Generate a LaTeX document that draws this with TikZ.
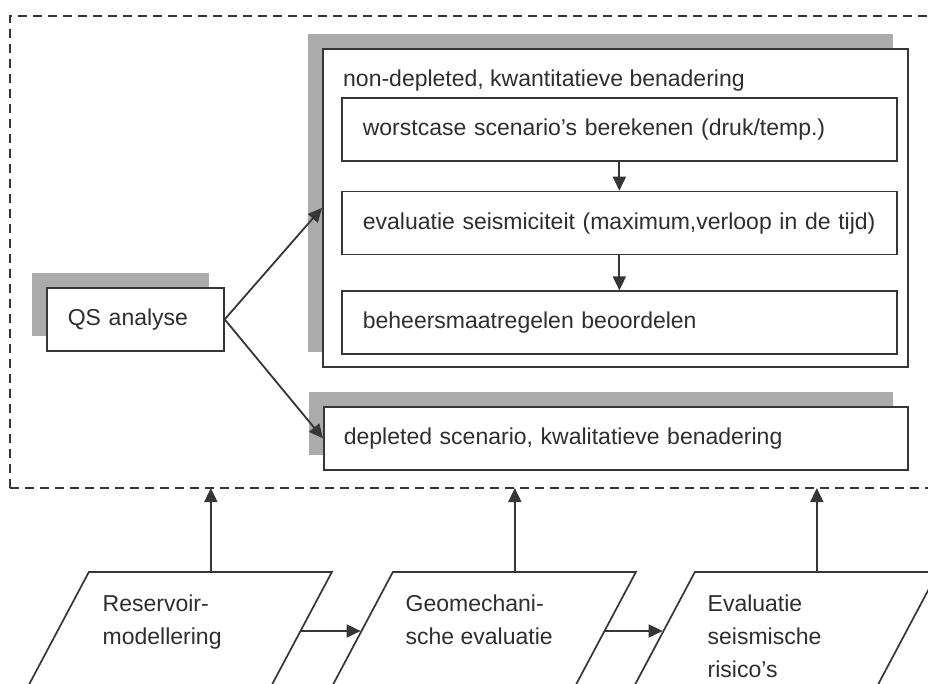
\documentclass[tikz,border=0pt]{standalone}
\usepackage{fontspec}
\setmainfont{Liberation Sans}
\usepackage{xcolor}
\definecolor{cLine}{HTML}{363636}
\definecolor{cShade}{HTML}{ABABAB}
\definecolor{cText}{HTML}{2E2E2E}
\usepackage{tikz}
\usetikzlibrary{positioning,arrows.meta,shadows,calc}
\tikzset{
  node-box/.style={draw=cLine,line width=1.7pt,fill=white,rectangle,
    minimum height=63pt,inner xsep=21pt,align=left,text=cText,
    font=\fontsize{23pt}{33pt}\selectfont},
  node-shade/.style={drop shadow={shadow xshift=-15pt,shadow yshift=15pt,
    fill=cShade,opacity=1}},
  node-para/.style={draw=cLine,line width=1.7pt,fill=white,rectangle,
    xslant=0.5317,minimum width=243pt,minimum height=118pt},
  node-text/.style={inner sep=0pt,align=left,text=cText,
    font=\fontsize{23pt}{33pt}\selectfont},
  frame-box/.style={draw=cLine,line width=1.4pt,dash pattern=on 9pt off 6pt,
    rectangle,inner sep=0pt,outer sep=0pt},
  arrow/.style={-{Triangle[length=14pt,width=13pt]},line width=1.8pt,draw=cLine},
}

\begin{document}
\begin{tikzpicture}[x=1pt,y=-1pt]
  \useasboundingbox (0,0) rectangle (928,683);
  \clip (0,0) rectangle (928,683);
  \fill[white] (0,0) rectangle (928,683);

  % kader rond de QS analyse
  \node[frame-box,minimum width=935pt,minimum height=472pt,anchor=north west]
    (qs-frame) at (10,16) {};

  \node[node-box,node-shade,text width=135pt,anchor=north west] (qs) at (46,287) {QS analyse};

  % non-depleted tak
  \node[node-box,node-shade,minimum width=585pt,minimum height=318pt,anchor=north west]
    (nd) at (322,48) {};
  \node[node-text,anchor=base west] (nd-title) at ($(nd.north west)+(21,38)$)
    {non-depleted, kwantitatieve benadering};
  \node[node-box,text width=513pt,anchor=north west] (worst) at (341,97)
    {worstcase scenario's berekenen (druk/temp.)};
  \node[node-box,text width=513pt,below=29pt of worst] (eval)
    {evaluatie seismiciteit (maximum,verloop in de tijd)};
  \node[node-box,text width=513pt,below=35pt of eval] (beheer)
    {beheersmaatregelen beoordelen};

  % depleted tak
  \node[node-box,node-shade,text width=544pt,inner xsep=20pt,anchor=north west]
    (depl) at (323,406) {depleted scenario, kwalitatieve benadering};

  \draw[arrow] (qs.east) -- (nd.west);
  \draw[arrow] (qs.east) -- (depl.west);
  \draw[arrow] (worst) -- (eval);
  \draw[arrow] (eval) -- (beheer);

  % invoer onderaan
  \node[node-para] (res) at (179,631) {};
  \node[node-para] (geo) at (483,631) {};
  \node[node-para] (risk) at (785,631) {};
  \node[node-text,anchor=north west] (res-txt) at ($(res.north west)+(14,23)$)
    {Reservoir-\\modellering};
  \node[node-text,anchor=north west] (geo-txt) at ($(geo.north west)+(13,23)$)
    {Geomechani-\\sche evaluatie};
  \node[node-text,anchor=north west] (risk-txt) at ($(risk.north west)+(13,23)$)
    {Evaluatie\\seismische\\risico's};

  \draw[arrow] (res.east) -- (geo.west);
  \draw[arrow] (geo.east) -- (risk.west);
  \draw[arrow] (res.north) -- (res.north |- qs-frame.south);
  \draw[arrow] (geo.north) -- (geo.north |- qs-frame.south);
  \draw[arrow] (risk.north) -- (risk.north |- qs-frame.south);
\end{tikzpicture}
\end{document}
